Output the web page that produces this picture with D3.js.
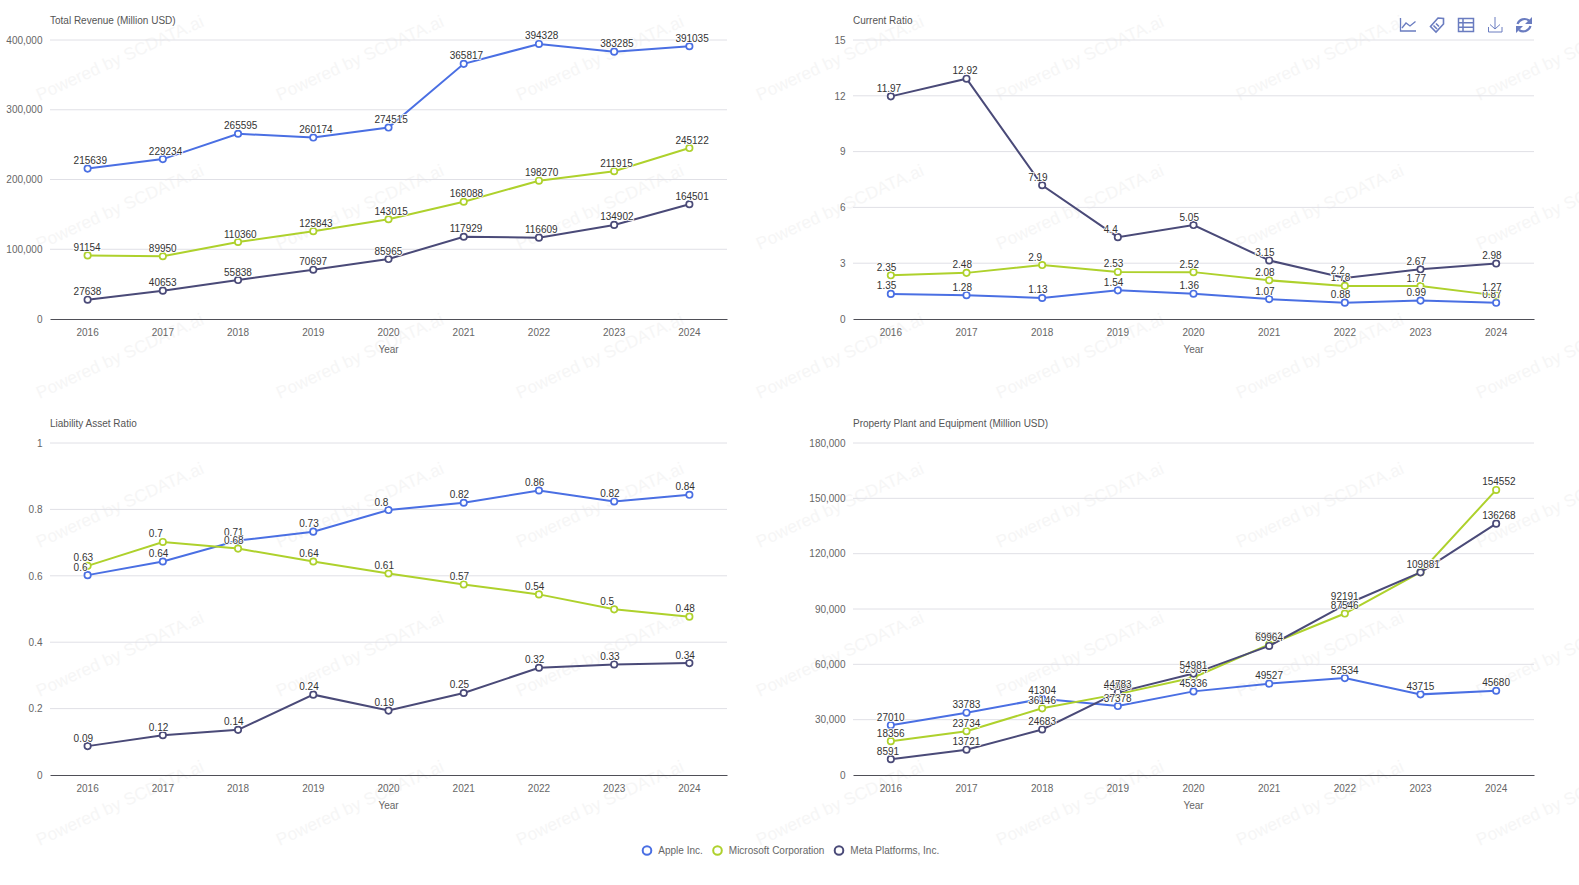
<!DOCTYPE html>
<html>
<head>
<meta charset="utf-8">
<script src="https://cdnjs.cloudflare.com/ajax/libs/d3/7.8.5/d3.min.js"></script>
<style>
  html, body { margin: 0; padding: 0; background: #fff; overflow: hidden; }
  svg text { font-family: "Liberation Sans", Arial, sans-serif; }
</style>
</head>
<body>
<div id="chart"></div>
<script>
const years = ["2016", "2017", "2018", "2019", "2020", "2021", "2022", "2023", "2024"];
const companies = ["Apple Inc.", "Microsoft Corporation", "Meta Platforms, Inc."];
const companyColors = ["#4a6fe3", "#aed12c", "#4a4a78"];

const revenueApple = [215639, 229234, 265595, 260174, 274515, 365817, 394328, 383285, 391035];
const revenueMicrosoft = [91154, 89950, 110360, 125843, 143015, 168088, 198270, 211915, 245122];
const revenueMeta = [27638, 40653, 55838, 70697, 85965, 117929, 116609, 134902, 164501];
const revenueTicks = [0, 100000, 200000, 300000, 400000];

const currentApple = [1.35, 1.28, 1.13, 1.54, 1.36, 1.07, 0.88, 0.99, 0.87];
const currentMicrosoft = [2.35, 2.48, 2.9, 2.53, 2.52, 2.08, 1.78, 1.77, 1.27];
const currentMeta = [11.97, 12.92, 7.19, 4.4, 5.05, 3.15, 2.2, 2.67, 2.98];
const currentTicks = [0, 3, 6, 9, 12, 15];

// points sit a bit off the rounded labels, so these keep a third decimal
const liabilityApple = [0.602, 0.643, 0.706, 0.733, 0.798, 0.82, 0.857, 0.824, 0.844];
const liabilityMicrosoft = [0.63, 0.702, 0.682, 0.643, 0.607, 0.574, 0.544, 0.499, 0.477];
const liabilityMeta = [0.087, 0.12, 0.136, 0.242, 0.194, 0.247, 0.323, 0.333, 0.337];
const liabilityTicks = [0, 0.2, 0.4, 0.6, 0.8, 1];

const ppeApple = [27010, 33783, 41304, 37378, 45336, 49527, 52534, 43715, 45680];
const ppeMicrosoft = [18356, 23734, 36146, 43856, 52904, 70803, 87546, 109987, 154552];
const ppeMeta = [8591, 13721, 24683, 44783, 54981, 69964, 92191, 109881, 136268];
const ppeTicks = [0, 30000, 60000, 90000, 120000, 150000, 180000];

const W = 1579, H = 885;
const svg = d3.select("#chart").append("svg").attr("width", W).attr("height", H);

// watermark goes under everything
const wm = svg.append("g");
for (let col = 0; col < 7; col++) {
    for (let row = 0; row < 6; row++) {
        wm.append("text")
            .attr("transform", `translate(${39.5 + col * 240},${101 + row * 149}) rotate(-24.5)`)
            .attr("font-size", 17.3)
            .attr("fill", "#f6f6f6")
            .text("Powered by SCDATA.ai");
    }
}

function drawPanel(opts) {
    const { left, right, top, bottom, title, ticks, series, labelFormat } = opts;
    const x = d3.scaleBand().domain(years).range([left, right]);
    const y = d3.scaleLinear().domain([0, d3.max(ticks)]).range([bottom, top]);
    const g = svg.append("g");

    // horizontal grid + y labels
    const yAxis = g.append("g")
        .attr("transform", `translate(${left},0)`)
        .call(d3.axisLeft(y).tickValues(ticks).tickSize(0).tickPadding(7.5)
            .tickFormat(d => d3.format(",")(d)));
    yAxis.select(".domain").remove();
    yAxis.selectAll("text").attr("font-size", 10).attr("fill", "#666").attr("font-family", null);
    g.append("g").selectAll("line")
        .data(ticks.filter(d => d > 0))
        .enter()
        .append("line")
        .attr("x1", left)
        .attr("x2", right)
        .attr("y1", d => y(d))
        .attr("y2", d => y(d))
        .attr("stroke", "#e0e0e6")
        .attr("stroke-width", 1);

    const xAxis = g.append("g")
        .attr("transform", `translate(0,${bottom})`)
        .call(d3.axisBottom(x).tickSize(0).tickPadding(10));
    xAxis.select(".domain").attr("stroke", "#4f4f57").attr("stroke-width", 1);
    xAxis.selectAll("text").attr("font-size", 10).attr("fill", "#666").attr("font-family", null);

    g.append("text")
        .attr("x", (left + right) / 2)
        .attr("y", bottom + 34)
        .attr("text-anchor", "middle")
        .attr("font-size", 10)
        .attr("fill", "#666")
        .text("Year");

    g.append("text")
        .attr("x", left)
        .attr("y", top - 16)
        .attr("font-size", 10)
        .attr("fill", "#555")
        .text(title);

    const line = d3.line()
        .x((d, i) => x(years[i]) + x.bandwidth() / 2)
        .y(d => y(d));

    series.forEach((values, s) => {
        const color = companyColors[s];
        g.append("path")
            .attr("d", line(values))
            .attr("fill", "none")
            .attr("stroke", color)
            .attr("stroke-width", 2);
        g.append("g").selectAll("circle")
            .data(values)
            .enter()
            .append("circle")
            .attr("cx", (d, i) => x(years[i]) + x.bandwidth() / 2)
            .attr("cy", d => y(d))
            .attr("r", 3.2)
            .attr("fill", "#fff")
            .attr("stroke", color)
            .attr("stroke-width", 1.7);
    });

    // labels after all lines, with white halo. they all start 14px left of the point
    series.forEach(values => {
        g.append("g").selectAll("text")
            .data(values)
            .enter()
            .append("text")
            .attr("x", (d, i) => x(years[i]) + x.bandwidth() / 2 - 14)
            .attr("y", d => y(d) - 4.5)
            .attr("font-size", 10)
            .attr("fill", "#333")
            .attr("stroke", "#fff")
            .attr("stroke-width", 1.6)
            .attr("paint-order", "stroke")
            .text(labelFormat || (d => d));
    });
}

drawPanel({
    left: 50, right: 727, top: 40, bottom: 319,
    title: "Total Revenue (Million USD)", ticks: revenueTicks,
    series: [revenueApple, revenueMicrosoft, revenueMeta]
});
drawPanel({
    left: 853, right: 1534, top: 40, bottom: 319,
    title: "Current Ratio", ticks: currentTicks,
    series: [currentApple, currentMicrosoft, currentMeta]
});
drawPanel({
    left: 50, right: 727, top: 443, bottom: 775,
    title: "Liability Asset Ratio", ticks: liabilityTicks,
    series: [liabilityApple, liabilityMicrosoft, liabilityMeta],
    labelFormat: d => +d.toFixed(2)
});
drawPanel({
    left: 853, right: 1534, top: 443, bottom: 775,
    title: "Property Plant and Equipment (Million USD)", ticks: ppeTicks,
    series: [ppeApple, ppeMicrosoft, ppeMeta]
});

// legend
const legendX = [647, 717.5, 839];
companies.forEach((name, i) => {
    svg.append("circle")
        .attr("cx", legendX[i])
        .attr("cy", 850.5)
        .attr("r", 4.3)
        .attr("fill", "#fff")
        .attr("stroke", companyColors[i])
        .attr("stroke-width", 2);
    svg.append("text")
        .attr("x", legendX[i] + 11.3)
        .attr("y", 854)
        .attr("font-size", 10)
        .attr("fill", "#666")
        .text(name);
});

// toolbox icons
const icons = svg.append("g")
    .attr("fill", "none")
    .attr("stroke", "#6a7cc0")
    .attr("stroke-width", 1.3);
icons.append("path").attr("d", "M1400.500 18V31H1416M1402 28L1406 23L1410 26L1415.500 21.500");
icons.append("path").attr("stroke-width", 1.6).attr("d", "M1438 18L1443.500 18.500L1443.500 24L1436 32L1430.500 26.500Z M1433.500 25.500L1437 29 M1436 23.500L1439 26.500");
icons.append("path").attr("stroke-width", 1.5).attr("d", "M1458.500 18.500H1473.500V31.500H1458.500Z M1458.500 22.800H1473.500 M1458.500 27.200H1473.500 M1463 18.500V31.500");
icons.append("path").attr("stroke-width", 1).attr("d", "M1495 17V29M1490 24.500L1495 29L1500 24.500M1488.500 27V32H1502V27");
icons.append("path").attr("stroke-width", 2.2).attr("d", "M1517.500 24A7.500 7.500 0 0 1 1529 20.500M1530.500 26A7.500 7.500 0 0 1 1519 30");
icons.append("path").attr("fill", "#6a7cc0").attr("stroke", "none").attr("d", "M1532 17V24H1525Z M1516 33V26H1523Z");
</script>
</body>
</html>
